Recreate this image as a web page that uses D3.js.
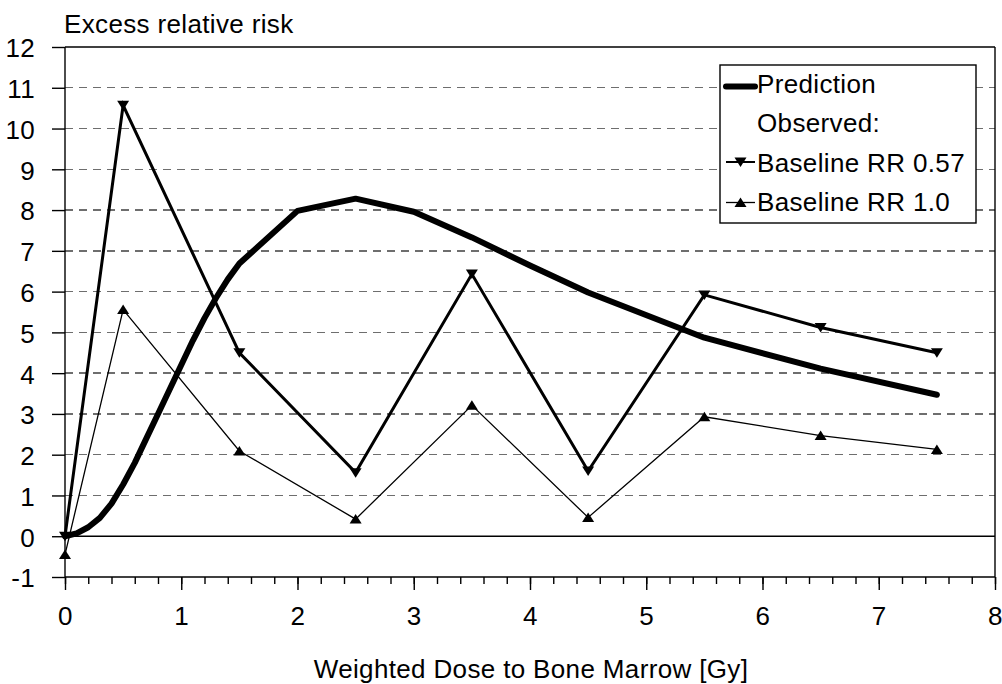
<!DOCTYPE html>
<html>
<head>
<meta charset="utf-8">
<script src="https://cdn.jsdelivr.net/npm/d3@7"></script>
<style>
  html, body { margin: 0; padding: 0; background: #fff; }
  svg { display: block; font-family: "Liberation Sans", Arial, Helvetica, sans-serif; }
  text { letter-spacing: 0.35px; }
</style>
</head>
<body>
<svg id="chart" width="1002" height="684"></svg>
<script>
// Model prediction of excess relative risk vs weighted bone-marrow dose
const predDose = [0, 0.1, 0.2, 0.3, 0.4, 0.5, 0.6, 0.7, 0.8, 0.9, 1.0, 1.1, 1.2, 1.3, 1.4, 1.5,
                  2.0, 2.5, 3.0, 3.5, 4.0, 4.5, 5.5, 6.5, 7.5];
const predERR  = [0, 0.07, 0.22, 0.45, 0.8, 1.27, 1.8, 2.4, 3.0, 3.6, 4.2, 4.8, 5.35, 5.85, 6.3, 6.69,
                  7.98, 8.28, 7.96, 7.33, 6.64, 5.98, 4.87, 4.11, 3.47];

// Observed values at dose-group midpoints
const obsDose  = [0, 0.5, 1.5, 2.5, 3.5, 4.5, 5.5, 6.5, 7.5];
const obsRR057 = [0, 10.57, 4.5, 1.56, 6.43, 1.6, 5.92, 5.12, 4.5];
const obsRR10  = [-0.45, 5.56, 2.09, 0.42, 3.21, 0.46, 2.93, 2.47, 2.13];

// Axis ticks and labels
const xTicks = [0, 1, 2, 3, 4, 5, 6, 7, 8];
const yTicks = [-1, 0, 1, 2, 3, 4, 5, 6, 7, 8, 9, 10, 11, 12];
const legendLabels = ["Prediction", "Observed:", "Baseline RR 0.57", "Baseline RR 1.0"];
const yTitle = "Excess relative risk";
const xTitle = "Weighted Dose to Bone Marrow [Gy]";

const svg = d3.select("#chart");
const FS = 26;

const x = d3.scaleLinear().domain([0, 8]).range([65, 995]);
const y = d3.scaleLinear().domain([-1, 12]).range([577, 47]);

// Horizontal gridlines (dashed); zero line and frame solid
svg.append("g").selectAll("line")
  .data(yTicks.filter(v => v > -1 && v < 12 && v !== 0))
  .join("line")
  .attr("x1", x(0)).attr("x2", x(8))
  .attr("y1", d => y(d)).attr("y2", d => y(d))
  .attr("stroke", "#6e6e6e").attr("stroke-width", 1.4)
  .attr("stroke-dasharray", "8,6")
  .attr("shape-rendering", "crispEdges");

svg.append("line")
  .attr("x1", x(0)).attr("x2", x(8)).attr("y1", y(0)).attr("y2", y(0))
  .attr("stroke", "#000").attr("stroke-width", 1.6);

svg.append("line")
  .attr("x1", x(0)).attr("x2", x(8)).attr("y1", y(12)).attr("y2", y(12))
  .attr("stroke", "#000").attr("stroke-width", 1.4);
svg.append("line")
  .attr("x1", x(8)).attr("x2", x(8)).attr("y1", y(12)).attr("y2", y(-1))
  .attr("stroke", "#000").attr("stroke-width", 1.4);

// Y axis
const yAxis = d3.axisLeft(y).tickValues(yTicks).tickSize(13).tickPadding(17).tickFormat(d => String(d));
const gy = svg.append("g").attr("transform", `translate(${x(0)},0)`).call(yAxis);
gy.select(".domain").attr("stroke", "#000").attr("stroke-width", 1.4)
  .attr("d", `M0,${y(12)}V${y(-1)}`);
gy.selectAll(".tick line").attr("stroke", "#000").attr("stroke-width", 1.4);
gy.selectAll(".tick text").attr("font-size", FS).attr("fill", "#000").attr("dy", "0.38em")
  .attr("font-family", "Liberation Sans, Arial, sans-serif");

// X axis: minor ticks every 0.2, major every 1
const gxMinor = svg.append("g").attr("transform", `translate(0,${y(-1)})`)
  .call(d3.axisBottom(x).tickValues(d3.range(0, 41).map(i => i / 5)).tickSize(7).tickFormat(""));
gxMinor.select(".domain").remove();
gxMinor.selectAll(".tick line").attr("stroke", "#000").attr("stroke-width", 1.4);

const gx = svg.append("g").attr("transform", `translate(0,${y(-1)})`)
  .call(d3.axisBottom(x).tickValues(xTicks).tickSize(13).tickPadding(17).tickFormat(d => String(d)));
gx.select(".domain").attr("stroke", "#000").attr("stroke-width", 1.4)
  .attr("d", `M${x(0)},0H${x(8)}`);
gx.selectAll(".tick line").attr("stroke", "#000").attr("stroke-width", 1.4);
gx.selectAll(".tick text").attr("font-size", FS).attr("fill", "#000")
  .attr("font-family", "Liberation Sans, Arial, sans-serif");

// Titles
svg.append("text").attr("x", 64).attr("y", 33).attr("font-size", FS).text(yTitle);
svg.append("text").attr("x", (x(0) + x(8)) / 2 + 1).attr("y", 678)
  .attr("text-anchor", "middle").attr("font-size", FS).text(xTitle);

// Series lines
const line = d3.line().x(d => x(d[0])).y(d => y(d[1]));
const obs057 = obsDose.map((d, i) => [d, obsRR057[i]]);
const obs10  = obsDose.map((d, i) => [d, obsRR10[i]]);
const pred   = predDose.map((d, i) => [d, predERR[i]]);

svg.append("path").datum(obs10).attr("d", line)
  .attr("fill", "none").attr("stroke", "#000").attr("stroke-width", 1.3).attr("stroke-linejoin", "miter");
svg.append("path").datum(obs057).attr("d", line)
  .attr("fill", "none").attr("stroke", "#000").attr("stroke-width", 3).attr("stroke-linejoin", "miter");
svg.append("path").datum(pred).attr("d", line)
  .attr("fill", "none").attr("stroke", "#000").attr("stroke-width", 6)
  .attr("stroke-linejoin", "round").attr("stroke-linecap", "round");

// Triangle markers
const triDown = (cx, cy) => `M${cx - 6},${cy - 4.5}L${cx + 6},${cy - 4.5}L${cx},${cy + 5}Z`;
const triUp   = (cx, cy) => `M${cx - 6},${cy + 4.5}L${cx + 6},${cy + 4.5}L${cx},${cy - 5}Z`;

svg.append("g").selectAll("path").data(obs057).join("path")
  .attr("d", d => triDown(x(d[0]), y(d[1]))).attr("fill", "#000");
svg.append("g").selectAll("path").data(obs10).join("path")
  .attr("d", d => triUp(x(d[0]), y(d[1]))).attr("fill", "#000");

// Legend
const lg = svg.append("g");
lg.append("rect").attr("x", 720).attr("y", 65).attr("width", 256).attr("height", 158)
  .attr("fill", "#fff").attr("stroke", "#000").attr("stroke-width", 1.4);
const rowBase = [93, 132, 172, 211];
const tx = 757;
legendLabels.forEach((t, i) => {
  lg.append("text").attr("x", tx).attr("y", rowBase[i]).attr("font-size", FS).text(t);
});
lg.append("line").attr("x1", 726).attr("x2", 755).attr("y1", 86.5).attr("y2", 86.5)
  .attr("stroke", "#000").attr("stroke-width", 6).attr("stroke-linecap", "round");
lg.append("line").attr("x1", 726).attr("x2", 755).attr("y1", 162).attr("y2", 162)
  .attr("stroke", "#000").attr("stroke-width", 2);
lg.append("path").attr("d", triDown(740.5, 162)).attr("fill", "#000");
lg.append("line").attr("x1", 726).attr("x2", 755).attr("y1", 202.5).attr("y2", 202.5)
  .attr("stroke", "#000").attr("stroke-width", 1.3);
lg.append("path").attr("d", triUp(740.5, 202.5)).attr("fill", "#000");
</script>
</body>
</html>
